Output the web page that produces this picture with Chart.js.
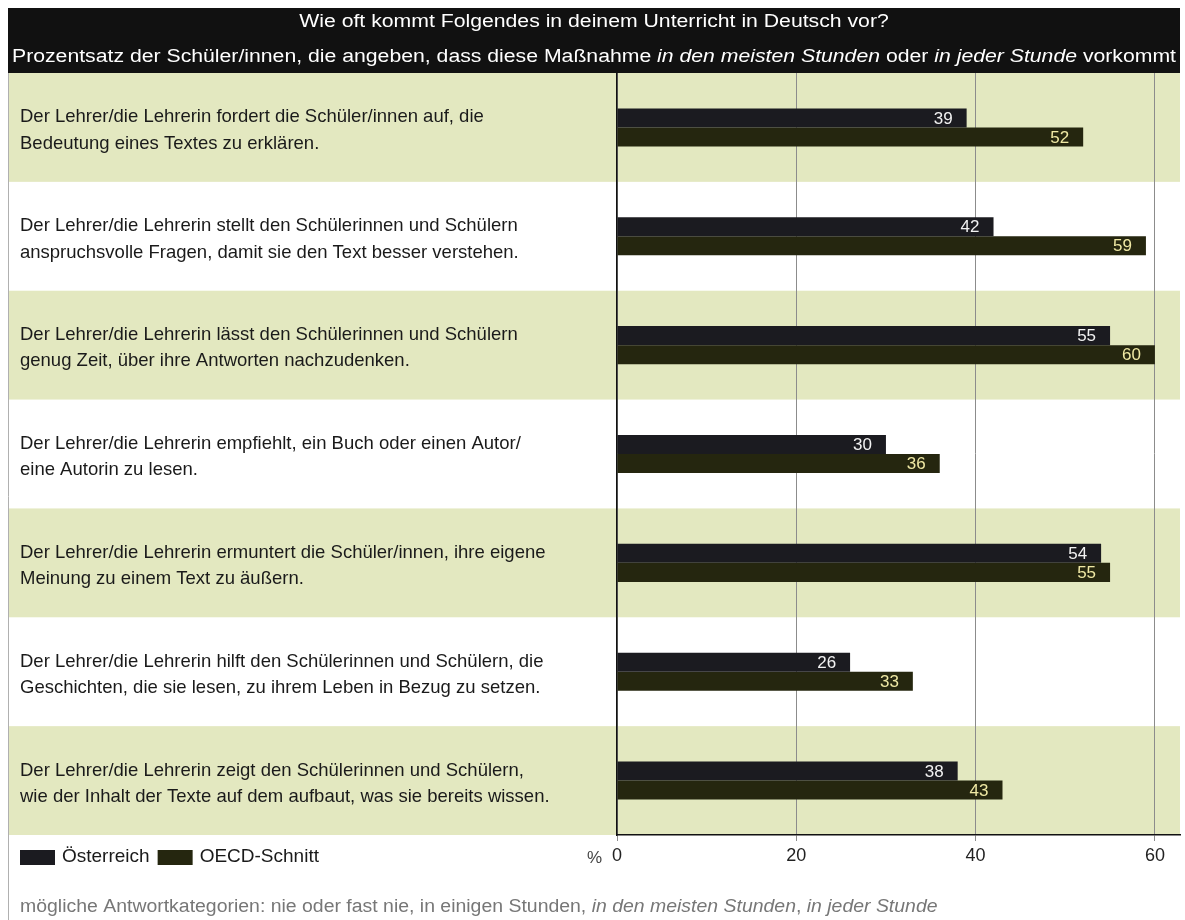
<!DOCTYPE html>
<html>
<head>
<meta charset="utf-8">
<script src="https://cdn.jsdelivr.net/npm/chart.js@4.4.0/dist/chart.umd.min.js"></script>
<style>
  body { margin: 0; background: #fff; }
  #wrap { width: 1185px; height: 920px; position: relative; }
</style>
</head>
<body>
<div id="wrap"><canvas id="myChart"></canvas></div>
<script>
const categories = [
  ['Der Lehrer/die Lehrerin fordert die Schüler/innen auf, die', 'Bedeutung eines Textes zu erklären.'],
  ['Der Lehrer/die Lehrerin stellt den Schülerinnen und Schülern', 'anspruchsvolle Fragen, damit sie den Text besser verstehen.'],
  ['Der Lehrer/die Lehrerin lässt den Schülerinnen und Schülern', 'genug Zeit, über ihre Antworten nachzudenken.'],
  ['Der Lehrer/die Lehrerin empfiehlt, ein Buch oder einen Autor/', 'eine Autorin zu lesen.'],
  ['Der Lehrer/die Lehrerin ermuntert die Schüler/innen, ihre eigene', 'Meinung zu einem Text zu äußern.'],
  ['Der Lehrer/die Lehrerin hilft den Schülerinnen und Schülern, die', 'Geschichten, die sie lesen, zu ihrem Leben in Bezug zu setzen.'],
  ['Der Lehrer/die Lehrerin zeigt den Schülerinnen und Schülern,', 'wie der Inhalt der Texte auf dem aufbaut, was sie bereits wissen.']
];
const oesterreich = [39, 42, 55, 30, 54, 26, 38];
const oecd = [52, 59, 60, 36, 55, 33, 43];
const xTicks = [0, 20, 40, 60];

const titleLines = [
  [['Wie oft kommt Folgendes in deinem Unterricht in Deutsch vor?', false]],
  [['Prozentsatz der Schüler/innen, die angeben, dass diese Maßnahme ', false],
   ['in den meisten Stunden', true], [' oder ', false], ['in jeder Stunde', true], [' vorkommt', false]]
];
const footnote = [
  ['mögliche Antwortkategorien: nie oder fast nie, in einigen Stunden, ', false],
  ['in den meisten Stunden', true], [', ', false], ['in jeder Stunde', true]
];

const FONT = "'Liberation Sans', Arial, sans-serif";
const colors = {
  aut: '#1b1b20',
  oecd: '#25260f',
  band: '#e3e8c0',
  autText: '#f2f2f2',
  oecdText: '#efe8a4'
};

function measureParts(ctx, parts, size) {
  let total = 0;
  parts.forEach(p => {
    ctx.font = (p[1] ? 'italic ' : '') + size + 'px ' + FONT;
    total += ctx.measureText(p[0]).width;
  });
  return total;
}

function mixedText(ctx, parts, x, y, size, align, stretch) {
  const s = stretch || 1;
  const total = measureParts(ctx, parts, size) * s;
  let cx = align === 'center' ? x - total / 2 : x;
  ctx.textAlign = 'left';
  parts.forEach(p => {
    ctx.font = (p[1] ? 'italic ' : '') + size + 'px ' + FONT;
    ctx.save();
    ctx.translate(cx, y);
    ctx.scale(s, 1);
    ctx.fillText(p[0], 0, 0);
    ctx.restore();
    cx += ctx.measureText(p[0]).width * s;
  });
}

const decor = {
  id: 'decor',
  beforeDraw(chart) {
    const ctx = chart.ctx;
    const y = chart.scales.y;
    const area = chart.chartArea;
    ctx.save();
    // header
    ctx.fillStyle = '#111';
    ctx.fillRect(8, 8, area.right - 8, 65);
    ctx.fillStyle = '#fff';
    ctx.textBaseline = 'middle';
    const stretch = (area.right - 16) / measureParts(ctx, titleLines[1], 18);
    mixedText(ctx, titleLines[0], 594, 22, 18, 'center', stretch);
    mixedText(ctx, titleLines[1], 594, 57, 18, 'center', stretch);
    // bands
    const step = y.getPixelForValue(1) - y.getPixelForValue(0);
    ctx.fillStyle = colors.band;
    categories.forEach((c, i) => {
      if (i % 2 === 0) {
        const cy = y.getPixelForValue(i);
        ctx.fillRect(8, cy - step / 2, area.right - 8, step);
      }
    });
    // frame
    ctx.strokeStyle = '#b0b0b0';
    ctx.lineWidth = 1;
    ctx.beginPath();
    ctx.moveTo(8.5, area.top);
    ctx.lineTo(8.5, 920);
    ctx.stroke();
    ctx.restore();
  },
  afterDraw(chart) {
    const ctx = chart.ctx;
    const x = chart.scales.x;
    const area = chart.chartArea;
    ctx.save();
    ctx.textBaseline = 'middle';
    ctx.fillStyle = '#444';
    ctx.font = '17px ' + FONT;
    ctx.textAlign = 'right';
    ctx.fillText('%', x.left - 15, area.bottom + 23);
    // legend
    let lx = 20;
    chart.data.datasets.forEach(ds => {
      ctx.fillStyle = ds.backgroundColor;
      ctx.fillRect(lx, area.bottom + 15, 35, 15);
      ctx.fillStyle = '#1a1a1a';
      ctx.textAlign = 'left';
      ctx.font = '19px ' + FONT;
      ctx.fillText(ds.label, lx + 42, area.bottom + 22);
      lx += 42 + ctx.measureText(ds.label).width + 8;
    });
    // footnote
    ctx.fillStyle = '#777';
    mixedText(ctx, footnote, 20, 907, 18, 'left', 1.08);
    ctx.restore();
  },
  afterDatasetsDraw(chart) {
    const ctx = chart.ctx;
    ctx.save();
    ctx.font = '17px ' + FONT;
    ctx.textAlign = 'right';
    ctx.textBaseline = 'middle';
    chart.data.datasets.forEach((ds, di) => {
      chart.getDatasetMeta(di).data.forEach((bar, i) => {
        ctx.fillStyle = di === 0 ? colors.autText : colors.oecdText;
        ctx.fillText(ds.data[i], bar.x - 14, bar.y + 1);
      });
    });
    ctx.restore();
  }
};

const ctx = document.getElementById('myChart').getContext('2d');
const myChart = new Chart(ctx, {
  type: 'bar',
  data: {
    labels: categories,
    datasets: [
      { label: 'Österreich', data: oesterreich, backgroundColor: colors.aut },
      { label: 'OECD-Schnitt', data: oecd, backgroundColor: colors.oecd }
    ]
  },
  options: {
    indexAxis: 'y',
    responsive: true,
    maintainAspectRatio: false,
    animation: false,
    categoryPercentage: 0.35,
    barPercentage: 1,
    layout: {
      padding: { left: 20, right: 5, top: 73, bottom: 0 }
    },
    plugins: {
      legend: { display: false },
      tooltip: { enabled: false }
    },
    scales: {
      x: {
        min: 0,
        max: 62.8,
        afterBuildTicks: (scale) => { scale.ticks = xTicks.map(v => ({ value: v })); },
        afterFit: (scale) => { scale.height = 85; },
        grid: { color: '#8c8c8c', lineWidth: 1, tickLength: 6, drawOnChartArea: true },
        border: { display: true, color: '#111', width: 1.5 },
        ticks: { color: '#222', padding: 4, font: { family: FONT, size: 18 } }
      },
      y: {
        afterFit: (scale) => { scale.width = 597; },
        grid: { display: false },
        border: { display: true, color: '#111', width: 1.5 },
        ticks: {
          crossAlign: 'far',
          labelOffset: 3,
          color: '#1a1a1a',
          font: { family: FONT, size: 18.5, lineHeight: 1.42 }
        }
      }
    }
  },
  plugins: [decor]
});
</script>
</body>
</html>
